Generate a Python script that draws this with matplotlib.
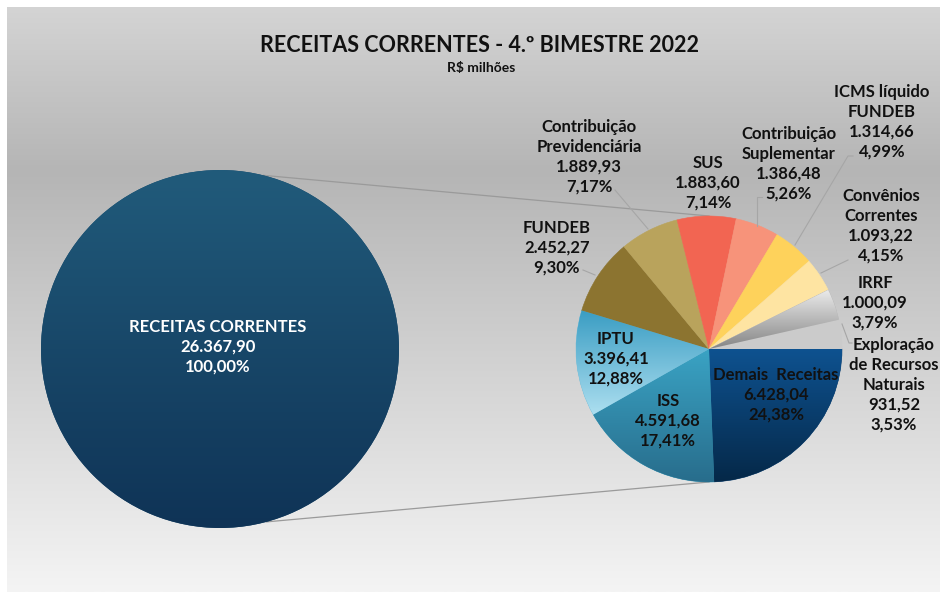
import numpy as np
import matplotlib.pyplot as plt
from matplotlib.colors import LinearSegmentedColormap

W, H = 940, 592

# dados (R$ milhões)
categorias = ['Demais  Receitas', 'ISS', 'IPTU', 'FUNDEB',
              'Contribuição\nPrevidenciária', 'SUS',
              'Contribuição\nSuplementar', 'ICMS líquido\nFUNDEB',
              'Convênios\nCorrentes', 'IRRF',
              'Exploração\nde Recursos\nNaturais']
valores = [6428.04, 4591.68, 3396.41, 2452.27, 1889.93, 1883.60,
           1386.48, 1314.66, 1093.22, 1000.09, 931.52]
percentuais = [24.38, 17.41, 12.88, 9.30, 7.17, 7.14, 5.26, 4.99, 4.15, 3.79, 3.53]
total_nome = 'RECEITAS CORRENTES'
total_valor = 26367.90
total_pct = 100.00

cores = ['#0a3f70', '#3190b0', '#6fbcd8', '#8c7430', '#b9a35c', '#f26552',
         '#f7937a', '#fed25b', '#fee4a2', '#b8b8b8', '#cbcbcb']
# gradientes (topo, base) para algumas fatias
gradientes = {0: ('#0e5290', '#052848'), 1: ('#3aa3c4', '#286d8c'),
              2: ('#3a9dc3', '#addff0'), 9: ('#ececec', '#858585')}

# posições dos rótulos em pixels (x, y a partir do topo)
pos_rotulos = [(776, 395), (668, 421), (616, 359), (557, 248), (589, 157),
               (708, 183), (789, 164), (882, 122), (881, 226), (875, 303),
               (894, 385)]
guias = [None, None, None,
         [(583, 270), (595, 275)],
         [(615, 190), (648, 229)],
         None,
         [(762, 197), (757, 197), (757, 226)],
         [(853, 156), (848, 156), (795, 245)],
         [(848, 260), (821, 273)],
         None,
         [(842, 324), (849, 343), (852, 343)]]


def br(v):
    return f'{v:,.2f}'.replace(',', 'X').replace('.', ',').replace('X', '.')


def pct(p):
    return f'{p:.2f}%'.replace('.', ',')


def Y(y):
    return H - y


def gradiente(ax, patch, c_top, c_bot, x0, x1, y0, y1):
    cmap = LinearSegmentedColormap.from_list('g', [c_bot, c_top])
    g = np.linspace(0, 1, 256).reshape(-1, 1)
    im = ax.imshow(g, cmap=cmap, origin='lower', extent=[x0, x1, y0, y1],
                   aspect='auto', zorder=patch.get_zorder() + 0.1)
    im.set_clip_path(patch)


fig = plt.figure(figsize=(W / 100, H / 100), dpi=100)
fig.patch.set_facecolor('white')
ax = fig.add_axes([0, 0, 1, 1])

# fundo
linhas = np.arange(7, H + 1)
tons = np.interp(linhas, [7, 170, H], [212, 181, 244]) / 255
fundo = np.repeat(tons.reshape(-1, 1), 3, axis=1).reshape(-1, 1, 3)
ax.imshow(fundo, extent=[7, W, 0, H - 7], aspect='auto', origin='upper', zorder=0)

# círculo total
cx_b, cy_b, r_b = 220, Y(349), 179
circ, _ = ax.pie([total_valor], colors=['#174a6c'], center=(cx_b, cy_b), radius=r_b,
                 wedgeprops=dict(linewidth=0))
for w in circ:
    w.set_zorder(2)
    gradiente(ax, w, '#215b7b', '#0f3356', cx_b - r_b, cx_b + r_b, cy_b - r_b, cy_b + r_b)

# pizza detalhada
cx, cy, r = 709, Y(349), 133
fatias, _ = ax.pie(valores, colors=cores, startangle=0, counterclock=False,
                   center=(cx, cy), radius=r,
                   wedgeprops=dict(linewidth=0.4, edgecolor='none'))
for i, w in enumerate(fatias):
    w.set_zorder(2)
    w.set_edgecolor(cores[i])
    if i in gradientes:
        bb = w.get_path().get_extents()
        c_top, c_bot = gradientes[i]
        gradiente(ax, w, c_top, c_bot, bb.x0, bb.x1, bb.y0, bb.y1)

# linhas de ligação
a1, a2 = np.deg2rad(76), np.deg2rad(-75)
ax.plot([cx_b + r_b * np.cos(a1), cx], [cy_b + r_b * np.sin(a1), cy + r],
        color='#9a9a9a', lw=0.9, zorder=1)
ax.plot([cx_b + r_b * np.cos(a2), cx], [cy_b + r_b * np.sin(a2), cy - r],
        color='#9a9a9a', lw=0.9, zorder=1)

# rótulos
fonte = dict(family=['Lato', 'DejaVu Sans'], weight='bold', fontsize=12,
             ha='center', va='center', linespacing=1.3, zorder=5)
for cat, v, p, (x, y), g in zip(categorias, valores, percentuais, pos_rotulos, guias):
    ax.text(x, Y(y), f'{cat}\n{br(v)}\n{pct(p)}', color='#111111', **fonte)
    if g:
        ax.plot([q[0] for q in g], [Y(q[1]) for q in g], color='#a6a6a6', lw=0.8, zorder=3)

ax.text(218, Y(347), f'{total_nome}\n{br(total_valor)}\n{pct(total_pct)}',
        color='white', **fonte)

ax.text(480, Y(46), 'RECEITAS CORRENTES - 4.º BIMESTRE 2022', family=['Lato', 'DejaVu Sans'],
        weight='bold', fontsize=15.5, ha='center', va='center', color='#111111')
ax.text(481, Y(68), 'R$ milhões', family=['Lato', 'DejaVu Sans'], weight='bold',
        fontsize=10, ha='center', va='center', color='#111111')

ax.set_xlim(0, W)
ax.set_ylim(0, H)
ax.set_aspect('equal')
ax.axis('off')

fig.savefig('out.png', dpi=100)
